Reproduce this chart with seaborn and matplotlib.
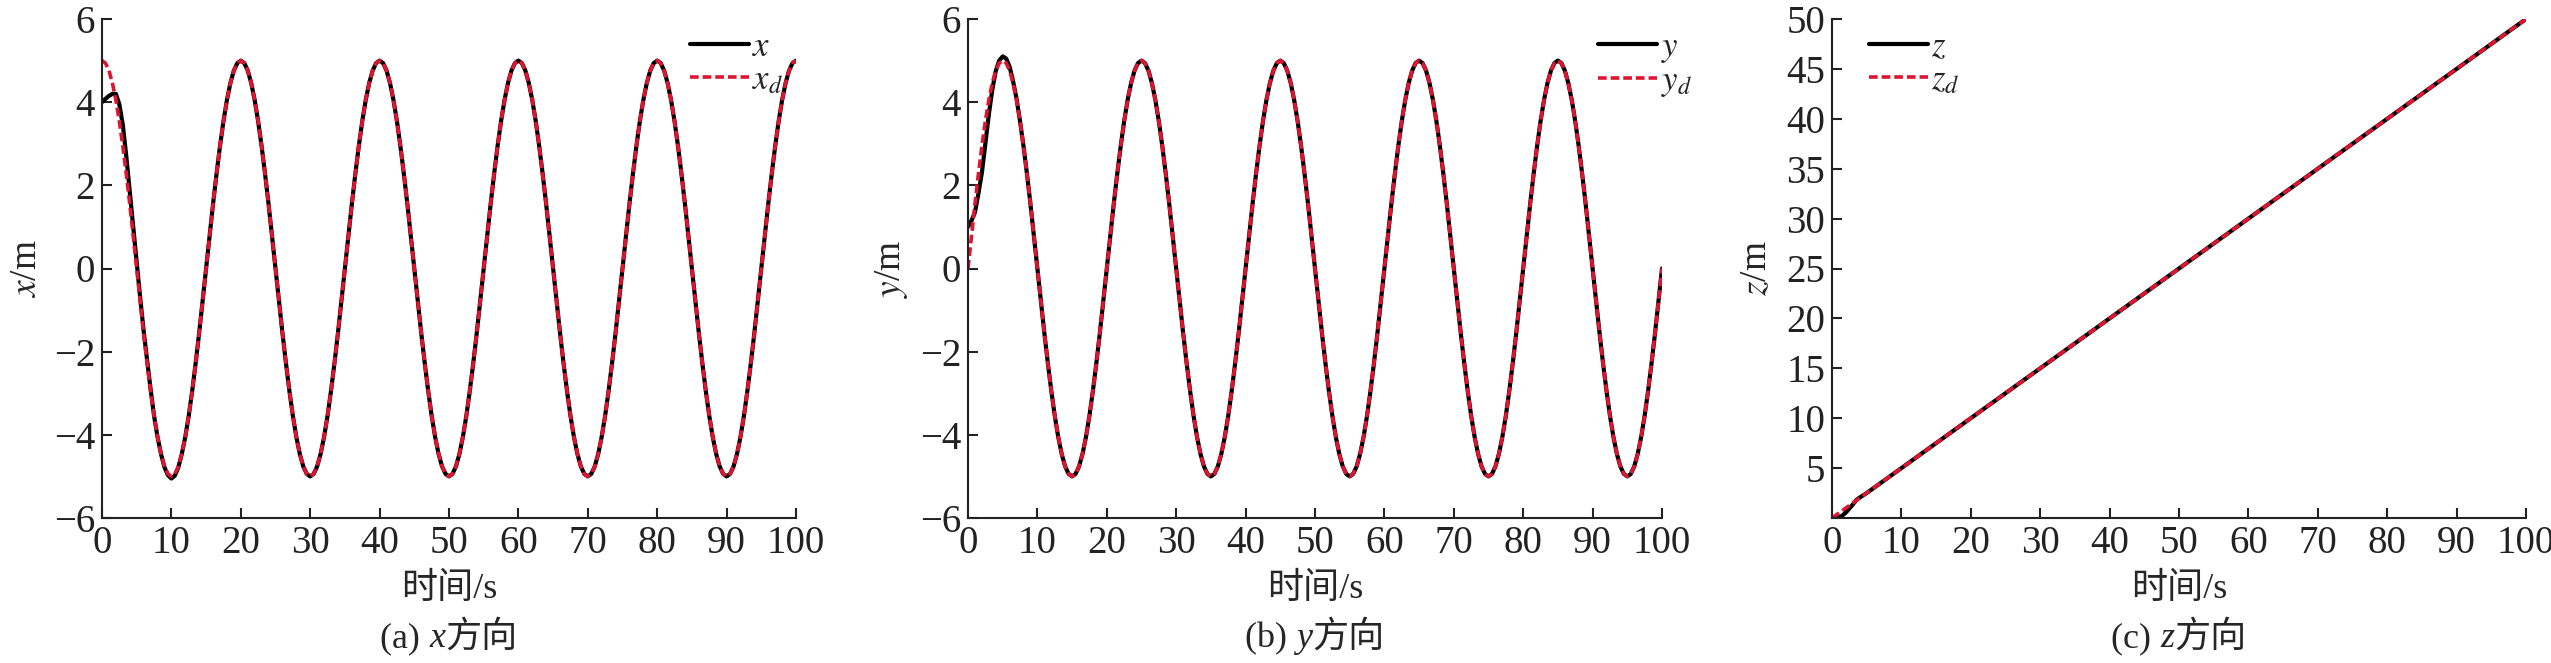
import matplotlib
matplotlib.use("Agg")
import matplotlib.pyplot as plt
import seaborn as sns
from matplotlib.offsetbox import TextArea, HPacker, AnchoredOffsetbox

# ---------------- data ----------------
# time axis, 0..100 s in 0.5 s steps
t = [i * 0.5 for i in range(201)]

# desired x (x_d), 0.5 s steps
x_d = [
    5.00, 4.94, 4.76, 4.46, 4.05, 3.54, 2.94, 2.27, 1.55, 0.78, 0.00, -0.78, -1.55, -2.27, -2.94, -3.54, -4.05, -4.46, -4.76, -4.94,
    -5.00, -4.94, -4.76, -4.46, -4.05, -3.54, -2.94, -2.27, -1.55, -0.78, 0.00, 0.78, 1.55, 2.27, 2.94, 3.54, 4.05, 4.46, 4.76, 4.94,
    5.00, 4.94, 4.76, 4.46, 4.05, 3.54, 2.94, 2.27, 1.55, 0.78, 0.00, -0.78, -1.55, -2.27, -2.94, -3.54, -4.05, -4.46, -4.76, -4.94,
    -5.00, -4.94, -4.76, -4.46, -4.05, -3.54, -2.94, -2.27, -1.55, -0.78, 0.00, 0.78, 1.55, 2.27, 2.94, 3.54, 4.05, 4.46, 4.76, 4.94,
    5.00, 4.94, 4.76, 4.46, 4.05, 3.54, 2.94, 2.27, 1.55, 0.78, 0.00, -0.78, -1.55, -2.27, -2.94, -3.54, -4.05, -4.46, -4.76, -4.94,
    -5.00, -4.94, -4.76, -4.46, -4.05, -3.54, -2.94, -2.27, -1.55, -0.78, 0.00, 0.78, 1.55, 2.27, 2.94, 3.54, 4.05, 4.46, 4.76, 4.94,
    5.00, 4.94, 4.76, 4.46, 4.05, 3.54, 2.94, 2.27, 1.55, 0.78, 0.00, -0.78, -1.55, -2.27, -2.94, -3.54, -4.05, -4.46, -4.76, -4.94,
    -5.00, -4.94, -4.76, -4.46, -4.05, -3.54, -2.94, -2.27, -1.55, -0.78, 0.00, 0.78, 1.55, 2.27, 2.94, 3.54, 4.05, 4.46, 4.76, 4.94,
    5.00, 4.94, 4.76, 4.46, 4.05, 3.54, 2.94, 2.27, 1.55, 0.78, 0.00, -0.78, -1.55, -2.27, -2.94, -3.54, -4.05, -4.46, -4.76, -4.94,
    -5.00, -4.94, -4.76, -4.46, -4.05, -3.54, -2.94, -2.27, -1.55, -0.78, 0.00, 0.78, 1.55, 2.27, 2.94, 3.54, 4.05, 4.46, 4.76, 4.94,
    5.00,
]
# actual x: initial transient (t = 0 .. 11 s), then tracks x_d
x_start = [4.00, 4.08, 4.15, 4.20, 4.20, 3.95, 3.45, 2.70, 1.85, 1.00, 0.15, -0.70, -1.50, -2.20, -2.90,
           -3.54, -4.05, -4.46, -4.78, -4.97, -5.05, -4.98, -4.78]
x_act = x_start + x_d[len(x_start):]

# desired y (y_d), 0.5 s steps
y_d = [
    0.00, 0.78, 1.55, 2.27, 2.94, 3.54, 4.05, 4.46, 4.76, 4.94, 5.00, 4.94, 4.76, 4.46, 4.05, 3.54, 2.94, 2.27, 1.55, 0.78,
    0.00, -0.78, -1.55, -2.27, -2.94, -3.54, -4.05, -4.46, -4.76, -4.94, -5.00, -4.94, -4.76, -4.46, -4.05, -3.54, -2.94, -2.27, -1.55, -0.78,
    0.00, 0.78, 1.55, 2.27, 2.94, 3.54, 4.05, 4.46, 4.76, 4.94, 5.00, 4.94, 4.76, 4.46, 4.05, 3.54, 2.94, 2.27, 1.55, 0.78,
    0.00, -0.78, -1.55, -2.27, -2.94, -3.54, -4.05, -4.46, -4.76, -4.94, -5.00, -4.94, -4.76, -4.46, -4.05, -3.54, -2.94, -2.27, -1.55, -0.78,
    0.00, 0.78, 1.55, 2.27, 2.94, 3.54, 4.05, 4.46, 4.76, 4.94, 5.00, 4.94, 4.76, 4.46, 4.05, 3.54, 2.94, 2.27, 1.55, 0.78,
    0.00, -0.78, -1.55, -2.27, -2.94, -3.54, -4.05, -4.46, -4.76, -4.94, -5.00, -4.94, -4.76, -4.46, -4.05, -3.54, -2.94, -2.27, -1.55, -0.78,
    0.00, 0.78, 1.55, 2.27, 2.94, 3.54, 4.05, 4.46, 4.76, 4.94, 5.00, 4.94, 4.76, 4.46, 4.05, 3.54, 2.94, 2.27, 1.55, 0.78,
    0.00, -0.78, -1.55, -2.27, -2.94, -3.54, -4.05, -4.46, -4.76, -4.94, -5.00, -4.94, -4.76, -4.46, -4.05, -3.54, -2.94, -2.27, -1.55, -0.78,
    0.00, 0.78, 1.55, 2.27, 2.94, 3.54, 4.05, 4.46, 4.76, 4.94, 5.00, 4.94, 4.76, 4.46, 4.05, 3.54, 2.94, 2.27, 1.55, 0.78,
    0.00, -0.78, -1.55, -2.27, -2.94, -3.54, -4.05, -4.46, -4.76, -4.94, -5.00, -4.94, -4.76, -4.46, -4.05, -3.54, -2.94, -2.27, -1.55, -0.78,
    0.00,
]
# actual y: initial transient (t = 0 .. 7 s), then tracks y_d
y_start = [1.00, 1.15, 1.35, 1.80, 2.30, 3.00, 3.70, 4.30, 4.75, 5.00, 5.10, 5.05, 4.85, 4.50, 4.08]
y_act = y_start + y_d[len(y_start):]

# z
t_zd = [0, 5, 10, 15, 20, 25, 30, 35, 40, 45, 50, 55, 60, 65, 70, 75, 80, 85, 90, 95, 100]
z_d = [0.0, 2.5, 5.0, 7.5, 10.0, 12.5, 15.0, 17.5, 20.0, 22.5, 25.0, 27.5, 30.0, 32.5, 35.0,
       37.5, 40.0, 42.5, 45.0, 47.5, 50.0]
t_z = [0, 1, 1.5, 2, 2.5, 3, 3.5, 4, 5, 10, 15, 20, 25, 30, 35, 40, 45, 50, 55, 60, 65, 70, 75, 80,
       85, 90, 95, 100]
z_act = [0.0, 0.05, 0.25, 0.55, 0.95, 1.35, 1.80, 2.05, 2.50, 5.0, 7.5, 10.0, 12.5, 15.0, 17.5, 20.0,
         22.5, 25.0, 27.5, 30.0, 32.5, 35.0, 37.5, 40.0, 42.5, 45.0, 47.5, 50.0]

x_ticks = [0, 10, 20, 30, 40, 50, 60, 70, 80, 90, 100]
xy_yticks = [-6, -4, -2, 0, 2, 4, 6]
z_yticks = [5, 10, 15, 20, 25, 30, 35, 40, 45, 50]

# ---------------- style ----------------
sns.set_style("ticks")
plt.rcParams["font.family"] = ["Liberation Serif", "Noto Sans CJK SC"]
plt.rcParams["mathtext.fontset"] = "stix"
plt.rcParams["axes.unicode_minus"] = True

RED = "#DD1530"
FS = 28
CJK = ["Noto Sans CJK SC"]

W, H = 2551, 663
fig = plt.figure(figsize=(W / 100, H / 100), dpi=100)
ax_w = 694 / W
ax_h = 499 / H
bottom = 1 - 518 / H
lefts = [102 / W, 968 / W, 1832 / W]
axes = [fig.add_axes([l, bottom, ax_w, ax_h]) for l in lefts]

panels = [
    (t, x_act, t, x_d, "$x$", "$x_d$", "$x$/m", "a", "x", xy_yticks, (-6, 6), 0.847),
    (t, y_act, t, y_d, "$y$", "$y_d$", "$y$/m", "b", "y", xy_yticks, (-6, 6), 0.908),
    (t_z, z_act, t_zd, z_d, "$z$", "$z_d$", "$z$/m", "c", "z", z_yticks, (0, 50), 0.053),
]

for ax, (ta, va, td, vd, la, ld, ylab, letter, var, yt, ylim, legx) in zip(axes, panels):
    sns.lineplot(x=ta, y=va, ax=ax, color="black", lw=3.0, label=la, estimator=None, sort=False)
    sns.lineplot(x=td, y=vd, ax=ax, color=RED, lw=2.6, label=ld, estimator=None, sort=False,
                 linestyle=(0, (2.4, 1.1)))
    ax.set_xlim(0, 100)
    ax.set_ylim(*ylim)
    ax.set_xticks(x_ticks)
    ax.set_yticks(yt)
    for s in ("top", "right"):
        ax.spines[s].set_visible(False)
    for s in ("left", "bottom"):
        ax.spines[s].set_linewidth(1.5)
        ax.spines[s].set_color("#222222")
    ax.tick_params(direction="in", length=7, width=1.5, labelsize=FS, colors="#222222")
    ax.tick_params(axis="x", pad=5)
    ax.tick_params(axis="y", pad=5)
    ax.set_ylabel(ylab, fontsize=27)
    ax.yaxis.set_label_coords(-58 / 694, 0.5)
    ax.set_xlabel("时间/s", fontsize=26)
    ax.xaxis.set_label_coords(0.5, -55 / 499)

    ax.legend(loc="upper left", bbox_to_anchor=(legx, 0.975), frameon=False, fontsize=25,
              handlelength=1.7, handletextpad=0.1, labelspacing=0.0, borderaxespad=0.0,
              borderpad=0.0)

    parts = [
        TextArea(f"({letter}) ", textprops=dict(fontsize=26, family=["Liberation Serif"])),
        TextArea(var, textprops=dict(fontsize=26, family=["Liberation Serif"], style="italic")),
        TextArea("方向", textprops=dict(fontsize=26, family=CJK)),
    ]
    box = HPacker(children=parts, align="baseline", pad=0, sep=0)
    anc = AnchoredOffsetbox(loc="upper center", child=box, bbox_to_anchor=(0.5, -101 / 499),
                            bbox_transform=ax.transAxes, frameon=False, pad=0, borderpad=0)
    ax.add_artist(anc)

fig.savefig("out.png", dpi=100)
